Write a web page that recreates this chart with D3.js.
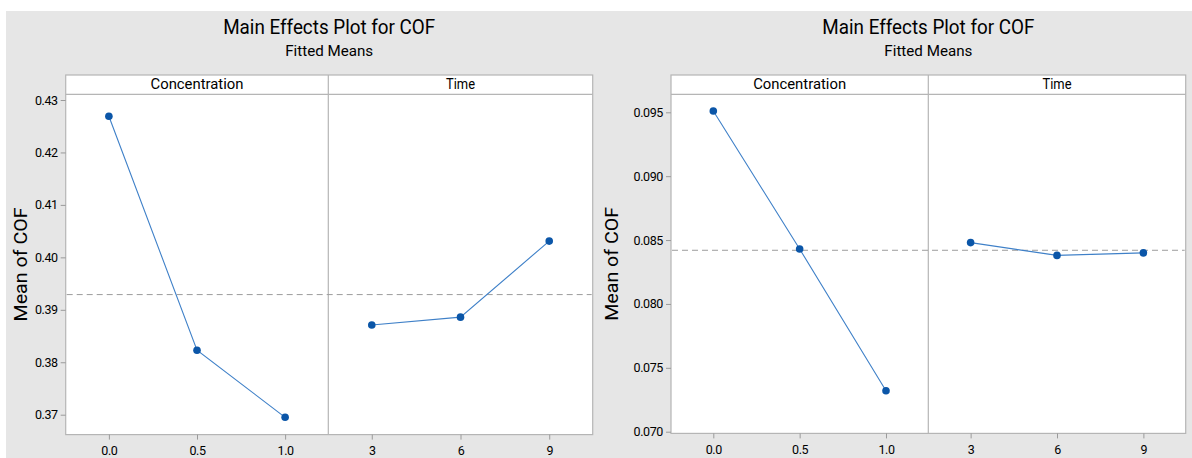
<!DOCTYPE html>
<html>
<head>
<meta charset="utf-8">
<script src="https://cdn.jsdelivr.net/npm/d3@7"></script>
<style>
  html, body { margin: 0; padding: 0; background: #fff; }
  svg text { font-family: Roboto, "Open Sans", sans-serif; fill: #000; }
</style>
</head>
<body>
<svg id="chart" width="1192" height="458"></svg>
<script>
// factor levels
const concLevels = ["0.0", "0.5", "1.0"];
const timeLevels = ["3", "6", "9"];

// fitted means, left plot
const leftConc = [0.4269, 0.3823, 0.3695];
const leftTime = [0.3871, 0.3886, 0.4031];
const leftTicks = [0.37, 0.38, 0.39, 0.40, 0.41, 0.42, 0.43];

// fitted means, right plot
const rightConc = [0.0951, 0.0843, 0.0732];
const rightTime = [0.0848, 0.0838, 0.0840];
const rightTicks = [0.070, 0.075, 0.080, 0.085, 0.090, 0.095];

const svg = d3.select('#chart');

// grey backdrop
svg.append('rect')
  .attr('x', 6).attr('y', 11)
  .attr('width', 1186).attr('height', 447)
  .attr('fill', '#e6e6e6');

const drawPanel = (cfg) => {
  const { left, right, mid, stripTop, top, bottom } = cfg;

  const y = d3.scaleLinear()
    .domain(cfg.tickDomain)
    .range(cfg.tickRange);

  const xConc = d3.scalePoint().domain(concLevels).range([left, mid]).padding(0.49);
  const xTime = d3.scalePoint().domain(timeLevels).range([mid, right]).padding(0.49);

  const cx = (left + right) / 2;

  // titles
  svg.append('text')
    .attr('x', cx).attr('y', 34)
    .attr('text-anchor', 'middle')
    .attr('font-size', 21)
    .attr('textLength', 212).attr('lengthAdjust', 'spacingAndGlyphs')
    .text('Main Effects Plot for COF');

  svg.append('text')
    .attr('x', cx).attr('y', 56)
    .attr('text-anchor', 'middle')
    .attr('font-size', 15)
    .attr('textLength', 88).attr('lengthAdjust', 'spacingAndGlyphs')
    .text('Fitted Means');

  // plot area + strips
  svg.append('rect')
    .attr('x', left).attr('y', stripTop)
    .attr('width', right - left).attr('height', bottom - stripTop)
    .attr('fill', '#fff')
    .attr('stroke', '#b5b5b5').attr('stroke-width', 1.2);

  svg.append('line')
    .attr('x1', left).attr('x2', right)
    .attr('y1', top).attr('y2', top)
    .attr('stroke', '#b5b5b5').attr('stroke-width', 1.2);

  svg.append('line')
    .attr('x1', mid).attr('x2', mid)
    .attr('y1', stripTop).attr('y2', bottom)
    .attr('stroke', '#b5b5b5').attr('stroke-width', 1.2);

  svg.append('text')
    .attr('x', (left + mid) / 2).attr('y', 89)
    .attr('text-anchor', 'middle')
    .attr('font-size', 15)
    .attr('textLength', 93).attr('lengthAdjust', 'spacingAndGlyphs')
    .text('Concentration');

  svg.append('text')
    .attr('x', (mid + right) / 2).attr('y', 89)
    .attr('text-anchor', 'middle')
    .attr('font-size', 15)
    .attr('textLength', 29).attr('lengthAdjust', 'spacingAndGlyphs')
    .text('Time');

  // y axis
  const yAxis = svg.append('g')
    .attr('transform', `translate(${left},0)`)
    .call(d3.axisLeft(y).tickValues(cfg.ticks).tickFormat(d3.format(cfg.fmt)).tickSize(5).tickPadding(3));
  yAxis.select('.domain').remove();

  // x axes
  [xConc, xTime].forEach(x => {
    const g = svg.append('g')
      .attr('transform', `translate(0,${bottom})`)
      .call(d3.axisBottom(x).tickSize(5).tickPadding(7));
    g.select('.domain').remove();
  });

  svg.selectAll('.tick line').attr('stroke', '#9a9a9a');
  svg.selectAll('.tick text')
    .attr('font-size', 12.5)
    .attr('letter-spacing', -0.4)
    .attr('fill', '#000')
    .style('font-family', 'Roboto, sans-serif');

  // y axis title
  svg.append('text')
    .attr('transform', `translate(${cfg.labelX},${(top + bottom) / 2}) rotate(-90)`)
    .attr('text-anchor', 'middle')
    .attr('font-size', 18)
    .attr('textLength', 114).attr('lengthAdjust', 'spacingAndGlyphs')
    .text('Mean of COF');

  // grand mean reference
  const grand = d3.mean(cfg.conc);
  svg.append('line')
    .attr('x1', left + 1).attr('x2', right - 1)
    .attr('y1', y(grand)).attr('y2', y(grand))
    .attr('stroke', '#9c9c9c')
    .attr('stroke-width', 1)
    .attr('stroke-dasharray', '6,4');

  // series
  const line = (x, levels) => d3.line()
    .x((d, i) => x(levels[i]))
    .y(d => y(d));

  [[xConc, concLevels, cfg.conc], [xTime, timeLevels, cfg.time]].forEach(([x, levels, vals]) => {
    svg.append('path')
      .datum(vals)
      .attr('d', line(x, levels))
      .attr('fill', 'none')
      .attr('stroke', '#3f80c8')
      .attr('stroke-width', 1.1);

    svg.append('g')
      .selectAll('circle')
      .data(vals)
      .join('circle')
      .attr('cx', (d, i) => x(levels[i]))
      .attr('cy', d => y(d))
      .attr('r', 3.8)
      .attr('fill', '#0b56a8');
  });
};

drawPanel({
  left: 65.7, right: 592.7, mid: 328.3,
  stripTop: 75, top: 94.3, bottom: 434.6,
  tickDomain: [0.37, 0.43], tickRange: [414.7, 100],
  ticks: leftTicks, fmt: '.2f', labelX: 27,
  conc: leftConc, time: leftTime
});

drawPanel({
  left: 671, right: 1185.7, mid: 928.3,
  stripTop: 75, top: 94.3, bottom: 433.4,
  tickDomain: [0.070, 0.095], tickRange: [431.7, 112.3],
  ticks: rightTicks, fmt: '.3f', labelX: 618,
  conc: rightConc, time: rightTime
});
</script>
</body>
</html>
